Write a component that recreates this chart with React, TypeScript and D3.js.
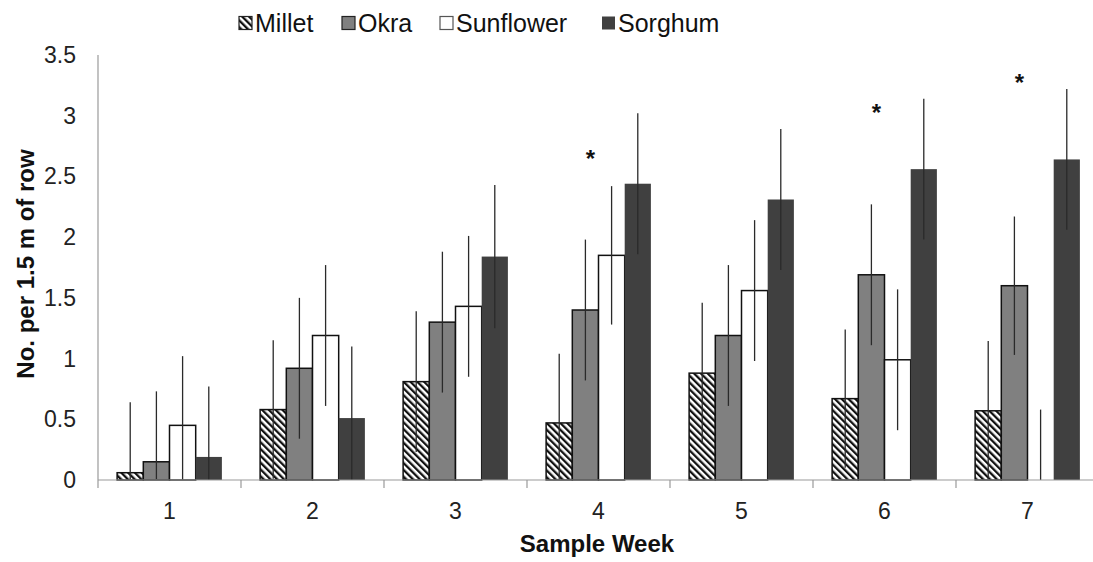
import React from "react";
import * as d3 from "d3";

const weeks = ["1", "2", "3", "4", "5", "6", "7"];
const seriesNames = ["Millet", "Okra", "Sunflower", "Sorghum"];
const millet = [0.06, 0.58, 0.81, 0.47, 0.88, 0.67, 0.57];
const okra = [0.15, 0.92, 1.3, 1.4, 1.19, 1.69, 1.6];
const sunflower = [0.45, 1.19, 1.43, 1.85, 1.56, 0.99, 0];
const sorghum = [0.19, 0.51, 1.84, 2.44, 2.31, 2.56, 2.64];
const milletErr = [0.58, 0.57, 0.58, 0.57, 0.58, 0.57, 0.575];
const okraErr = [0.58, 0.58, 0.58, 0.58, 0.58, 0.58, 0.57];
const sunflowerErr = [0.57, 0.58, 0.58, 0.57, 0.58, 0.58, 0.58];
const sorghumErr = [0.58, 0.59, 0.59, 0.58, 0.58, 0.58, 0.58];
const yTicks = [0, 0.5, 1, 1.5, 2, 2.5, 3, 3.5];
const starWeeks = ["4", "6", "7"];
const starValues = [2.69, 3.07, 3.32];

const W = 1093;
const H = 562;
const FONT = "'Liberation Sans', Arial, Helvetica, sans-serif";

const values = [millet, okra, sunflower, sorghum];
const errors = [milletErr, okraErr, sunflowerErr, sorghumErr];

const fills = ["url(#hatch)", "#808080", "#ffffff", "#404040"];
const strokes = ["#111", "#111", "#111", "none"];

export default function App() {
  const y = d3.scaleLinear().domain([0, 3.5]).range([480, 55]);
  const x = d3.scaleBand<string>().domain(weeks).range([98, 98 + 143 * 7]).paddingInner(0).paddingOuter(0);
  const inner = d3
    .scaleBand<string>()
    .domain(seriesNames)
    .range([0, x.bandwidth()])
    .paddingInner(0)
    .paddingOuter(0.73);
  const bw = inner.bandwidth();

  const legendX = [239, 342, 440, 602];

  return (
    <svg
      width={W}
      height={H}
      style={{ position: "absolute", left: 0, top: 0, background: "#fff" }}
      fontFamily={FONT}
    >
      <defs>
        <pattern id="hatch" width={4.8} height={4.8} patternUnits="userSpaceOnUse" patternTransform="rotate(-45)">
          <rect x={0} y={0} width={4.8} height={4.8} fill="#fff" />
          <rect x={0} y={0} width={2.3} height={4.8} fill="#111" />
        </pattern>
      </defs>
      <rect x={0} y={0} width={W} height={H} fill="#fff" />

      {/* y axis */}
      <line x1={98} x2={98} y1={y(3.5)} y2={y(0)} stroke="#9a9a9a" strokeWidth={1.2} />
      {yTicks.map((t) => (
        <text
          key={t}
          x={76}
          y={y(t)}
          textAnchor="end"
          dominantBaseline="central"
          fontSize={23}
          fill="#222"
        >
          {String(t)}
        </text>
      ))}

      {/* bars */}
      {seriesNames.map((s, si) =>
        weeks.map((w, wi) => {
          const v = values[si][wi];
          const x0 = (x(w) as number) + (inner(s) as number);
          if (v <= 0) return null;
          return (
            <rect
              key={s + w}
              x={x0}
              y={y(v)}
              width={bw}
              height={y(0) - y(v)}
              fill={fills[si]}
              stroke={strokes[si]}
              strokeWidth={1.5}
            />
          );
        })
      )}

      {/* error bars */}
      {seriesNames.map((s, si) =>
        weeks.map((w, wi) => {
          const v = values[si][wi];
          const e = errors[si][wi];
          const cx = (x(w) as number) + (inner(s) as number) + bw / 2;
          return (
            <line
              key={"e" + s + w}
              x1={cx}
              x2={cx}
              y1={y(v + e)}
              y2={y(Math.max(0, v - e))}
              stroke="#2a2a2a"
              strokeWidth={1.3}
            />
          );
        })
      )}

      {/* x axis */}
      <line x1={98} x2={W} y1={y(0)} y2={y(0)} stroke="#9a9a9a" strokeWidth={1.2} />
      {weeks.map((w) => (
        <line
          key={"t" + w}
          x1={x(w) as number}
          x2={x(w) as number}
          y1={y(0)}
          y2={y(0) + 8}
          stroke="#9a9a9a"
          strokeWidth={1.2}
        />
      ))}
      {weeks.map((w) => (
        <text
          key={"l" + w}
          x={(x(w) as number) + x.bandwidth() / 2}
          y={511}
          textAnchor="middle"
          dominantBaseline="central"
          fontSize={23}
          fill="#222"
        >
          {w}
        </text>
      ))}

      {/* stars */}
      {starWeeks.map((w, i) => (
        <text
          key={"s" + w}
          x={(x(w) as number) + (inner("Okra") as number) + bw / 2 + 5}
          y={y(starValues[i]) + 14}
          textAnchor="middle"
          fontSize={24}
          fontWeight="bold"
          fill="#111"
        >
          *
        </text>
      ))}

      {/* axis titles */}
      <text
        transform="translate(25,264) rotate(-90)"
        textAnchor="middle"
        dominantBaseline="central"
        fontSize={24}
        fontWeight="bold"
        fill="#111"
      >
        No. per 1.5 m of row
      </text>
      <text x={597} y={552} textAnchor="middle" fontSize={24} fontWeight="bold" fill="#111">
        Sample Week
      </text>

      {/* legend */}
      {seriesNames.map((s, i) => (
        <g key={"lg" + s}>
          <rect
            x={legendX[i]}
            y={16.5}
            width={13}
            height={13}
            fill={fills[i]}
            stroke={i === 3 ? "none" : i === 2 ? "#555" : "#222"}
            strokeWidth={1.2}
          />
          <text x={legendX[i] + 16} y={23} dominantBaseline="central" fontSize={25} fill="#111">
            {s}
          </text>
        </g>
      ))}
    </svg>
  );
}
